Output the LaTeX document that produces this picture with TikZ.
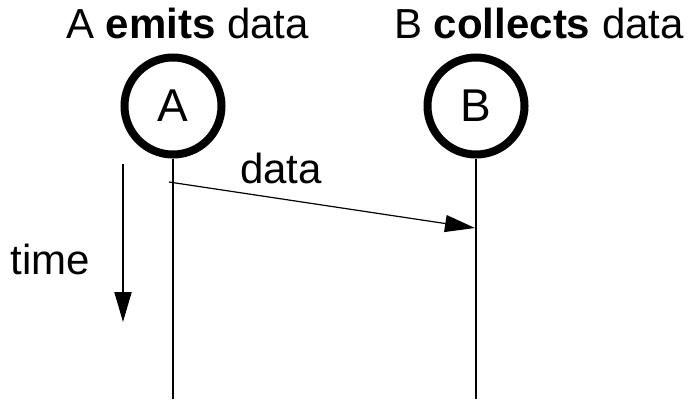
\documentclass[tikz,border=0pt]{standalone}
\usepackage{fontspec}
\setmainfont{Liberation Sans}
\usetikzlibrary{arrows.meta}
\begin{document}
\begin{tikzpicture}[x=1pt,y=-1pt,
  txt/.style={font=\fontsize{42}{50}\selectfont, inner sep=0pt},
  actor/.style={circle, draw, line width=8pt, minimum size=97pt, inner sep=0pt, font=\fontsize{46}{54}\selectfont},
  lifeline/.style={line width=2pt},
  msg/.style={line width=1.2pt, -{Triangle[length=30pt,width=17pt]}},
  timearrow/.style={line width=2pt, -{Triangle[length=30pt,width=17pt]}}]
\useasboundingbox (0,0) rectangle (690,399);
% titles
\node[txt, anchor=base] (tA) at (187.5,38) {A \textbf{emits} data};
\node[txt, anchor=base] (tB) at (539,38) {B \textbf{collects} data};
% actors
\node[actor] (A) at (173,106) {A};
\node[actor] (B) at (476,106) {B};
\coordinate (Aend) at (A.center |- 0,399);
\coordinate (Bend) at (B.center |- 0,399);
\draw[lifeline] (A.south) -- (Aend);
\draw[lifeline] (B.south) -- (Bend);
% message
\coordinate (ms) at (169,182);
\coordinate (mt) at (475,228);
\draw[msg] (ms) -- (mt);
\node[txt, anchor=base] (lbl) at (281,183) {data};
% time
\coordinate (ts) at (123,164);
\coordinate (te) at (123,322);
\draw[timearrow] (ts) -- (te);
\node[txt, anchor=base] (time) at (50,274) {time};
\end{tikzpicture}
\end{document}
